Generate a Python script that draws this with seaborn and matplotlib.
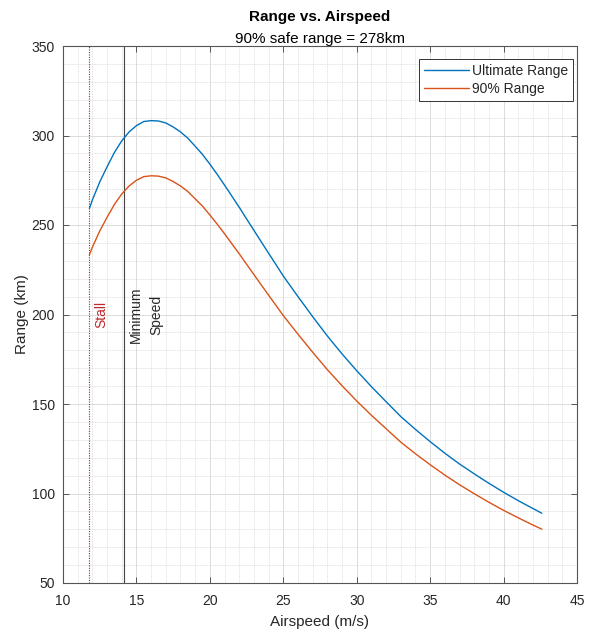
import matplotlib
matplotlib.use("Agg")
import matplotlib.pyplot as plt
from matplotlib.ticker import MultipleLocator
import seaborn as sns

# ---- data ----
airspeed = [11.8, 12.0, 12.5, 13.0, 13.5, 14.0, 14.5, 15.0, 15.5, 16.0, 16.5,
            17.0, 17.5, 18.0, 18.5, 19.0, 19.5, 20.0, 20.5, 21.0, 21.5, 22.0,
            22.5, 23.0, 23.5, 24.0, 24.5, 25.0, 26.0, 27.0,
            28.0, 29.0, 30.0, 31.0, 32.0, 33.0, 34.0, 35.0, 36.0, 37.0, 38.0,
            39.0, 40.0, 41.0, 42.0, 42.6]
ultimate_range = [259.3, 264.0, 274.0, 282.5, 290.5, 297.0, 302.0, 305.5, 307.8,
                  308.3, 308.1, 307.0, 304.8, 302.0, 298.5, 294.0, 289.4, 284.0,
                  278.3, 272.3, 266.1, 259.9, 253.4, 247.0, 240.6,
                  234.2, 227.9, 221.5, 210.0, 198.8, 188.0, 178.0, 168.6, 159.7,
                  151.3, 143.0, 135.8, 129.0, 122.5, 116.5, 111.0, 105.7, 100.7,
                  96.0, 91.6, 89.0]
range_90 = [233.4, 237.6, 246.6, 254.3, 261.5, 267.3, 271.8, 275.0, 277.0,
            277.5, 277.3, 276.3, 274.3, 271.8, 268.7, 264.6, 260.5, 255.6,
            250.5, 245.1, 239.5, 233.9, 228.1, 222.3, 216.5,
            210.8, 205.1, 199.4, 189.0, 178.9, 169.2, 160.2, 151.7, 143.7,
            136.2, 128.7, 122.2, 116.1, 110.3, 104.9, 99.9, 95.1, 90.6,
            86.4, 82.4, 80.1]
series_names = ["Ultimate Range", "90% Range"]
stall_speed = 11.8
min_speed = 14.17
title_text = "Range vs. Airspeed"
subtitle_text = "90% safe range = 278km"
x_label = "Airspeed (m/s)"
y_label = "Range (km)"

# ---- style ----
sns.set_theme(style="white")
plt.rcParams["font.family"] = ["Liberation Sans", "DejaVu Sans"]

W, H = 591, 635
fig = plt.figure(figsize=(W / 100, H / 100), dpi=100)
ax = fig.add_axes([63 / W, 1 - 583 / H, 514 / W, 537 / H])

blue = "#0072BD"
orange = "#D95319"
sns.lineplot(x=airspeed, y=ultimate_range, color=blue, lw=1.0,
             label=series_names[0], ax=ax)
sns.lineplot(x=airspeed, y=range_90, color=orange, lw=1.0,
             label=series_names[1], ax=ax)

# vertical reference lines
ax.axvline(stall_speed, color="#D01010", lw=0.8, ls=(0, (1, 1.2)), zorder=1)
ax.axvline(min_speed, color="#444444", lw=0.8, zorder=1)
ax.text(stall_speed + 0.83, 200, "Stall", rotation=90, color="#C0282D",
        fontsize=10, ha="center", va="center")
ax.text(min_speed + 1.5, 200, "Minimum\nSpeed", rotation=90, color="#262626",
        fontsize=10, ha="center", va="center", linespacing=1.55,
        multialignment="center")

# axes limits and ticks
ax.set_xlim(10, 45)
ax.set_ylim(50, 350)
ax.xaxis.set_major_locator(MultipleLocator(5))
ax.xaxis.set_minor_locator(MultipleLocator(1))
ax.yaxis.set_major_locator(MultipleLocator(50))
ax.yaxis.set_minor_locator(MultipleLocator(10))
ax.grid(which="major", color="#d6d6d6", lw=0.6, ls="-")
ax.grid(which="minor", color="#d9d9d9", lw=0.6, ls=(0, (1, 1)))
ax.set_axisbelow(True)
ax.tick_params(which="major", direction="in", length=4, width=0.7,
               color="#555555", labelsize=10, labelcolor="#262626",
               top=True, right=True, bottom=True, left=True, pad=6)
ax.tick_params(axis="x", which="major", pad=8)
ax.tick_params(which="minor", length=0, top=False, right=False)
for s in ax.spines.values():
    s.set_color("#555555")
    s.set_linewidth(0.8)

ax.set_xlabel(x_label, fontsize=11, color="#262626", labelpad=5)
ax.set_ylabel(y_label, fontsize=11, color="#262626", labelpad=2)

fig.text(320 / W, 1 - 20.7 / H, title_text, ha="center", va="baseline",
         fontsize=11, fontweight="bold", color="black")
fig.text(320 / W, 1 - 42.5 / H, subtitle_text, ha="center", va="baseline",
         fontsize=11, color="black")

leg = ax.legend(loc="upper right", bbox_to_anchor=(573 / W, 1 - 59 / H),
                bbox_transform=fig.transFigure, borderaxespad=0,
                fontsize=10, frameon=True, fancybox=False, framealpha=1,
                edgecolor="#333333", handlelength=3.2, handletextpad=0.25,
                labelspacing=0.3, borderpad=0.35)
leg.get_frame().set_linewidth(0.7)
for t in leg.get_texts():
    t.set_color("#262626")

fig.savefig("out.png", dpi=100)
